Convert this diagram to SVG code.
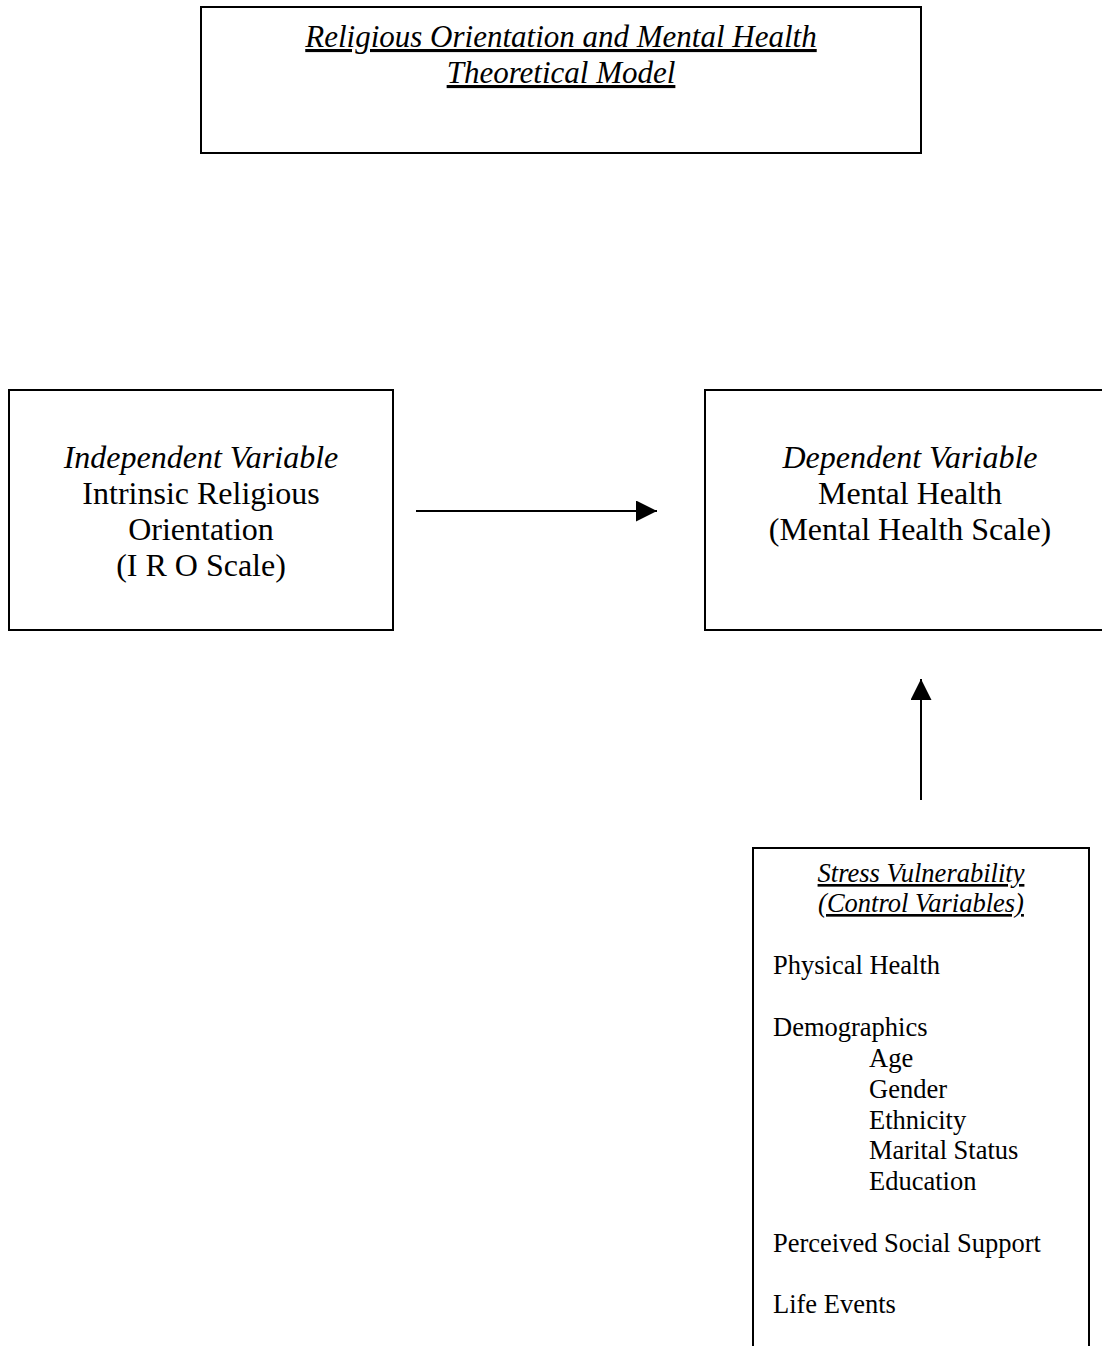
<svg xmlns="http://www.w3.org/2000/svg" width="1102" height="1346" viewBox="0 0 1102 1346">
<style>
.box{fill:#fff;stroke:#000;stroke-width:2}
.t{font-family:"Liberation Serif","Times New Roman",serif;fill:#000}
.big{font-size:32px}
.ttl{font-size:31px;font-style:italic;text-decoration:underline}
.sm{font-size:26.5px}
.it{font-style:italic}
.ul{text-decoration:underline}
.c{text-anchor:middle}
.conn{stroke:#000;stroke-width:2;fill:none}
</style>
<defs>
<marker id="ah" viewBox="0 0 10 10" refX="10" refY="5" markerWidth="21" markerHeight="21" markerUnits="userSpaceOnUse" orient="auto">
<path d="M0,0 L10,5 L0,10 z" fill="#000"/>
</marker>
</defs>
<rect width="1102" height="1346" fill="#fff"/>
<g id="title">
<rect class="box" x="201" y="7" width="720" height="146"/>
<text class="t ttl c" x="561" y="47">Religious Orientation and Mental Health</text>
<text class="t ttl c" x="561" y="83">Theoretical Model</text>
</g>
<g id="independent">
<rect class="box" x="9" y="390" width="384" height="240"/>
<text class="t big it c" x="201" y="468">Independent Variable</text>
<text class="t big c" x="201" y="504">Intrinsic Religious</text>
<text class="t big c" x="201" y="540">Orientation</text>
<text class="t big c" x="201" y="576">(I R O Scale)</text>
</g>
<g id="dependent">
<rect class="box" x="705" y="390" width="400" height="240"/>
<text class="t big it c" x="910" y="468">Dependent Variable</text>
<text class="t big c" x="910" y="504">Mental Health</text>
<text class="t big c" x="910" y="540">(Mental Health Scale)</text>
</g>
<g id="control">
<path class="box" d="M753,1348 V848 H1089 V1348"/>
<text class="t sm it ul c" x="921" y="882">Stress Vulnerability</text>
<text class="t sm it ul c" x="921" y="912">(Control Variables)</text>
<text class="t sm" x="773" y="974">Physical Health</text>
<text class="t sm" x="773" y="1036">Demographics</text>
<text class="t sm" x="869" y="1067">Age</text>
<text class="t sm" x="869" y="1098">Gender</text>
<text class="t sm" x="869" y="1129">Ethnicity</text>
<text class="t sm" x="869" y="1159">Marital Status</text>
<text class="t sm" x="869" y="1190">Education</text>
<text class="t sm" x="773" y="1252">Perceived Social Support</text>
<text class="t sm" x="773" y="1313">Life Events</text>
</g>
<g id="connectors">
<line class="conn" x1="416" y1="511" x2="657" y2="511" marker-end="url(#ah)"/>
<line class="conn" x1="921" y1="800" x2="921" y2="679" marker-end="url(#ah)"/>
</g>
</svg>
